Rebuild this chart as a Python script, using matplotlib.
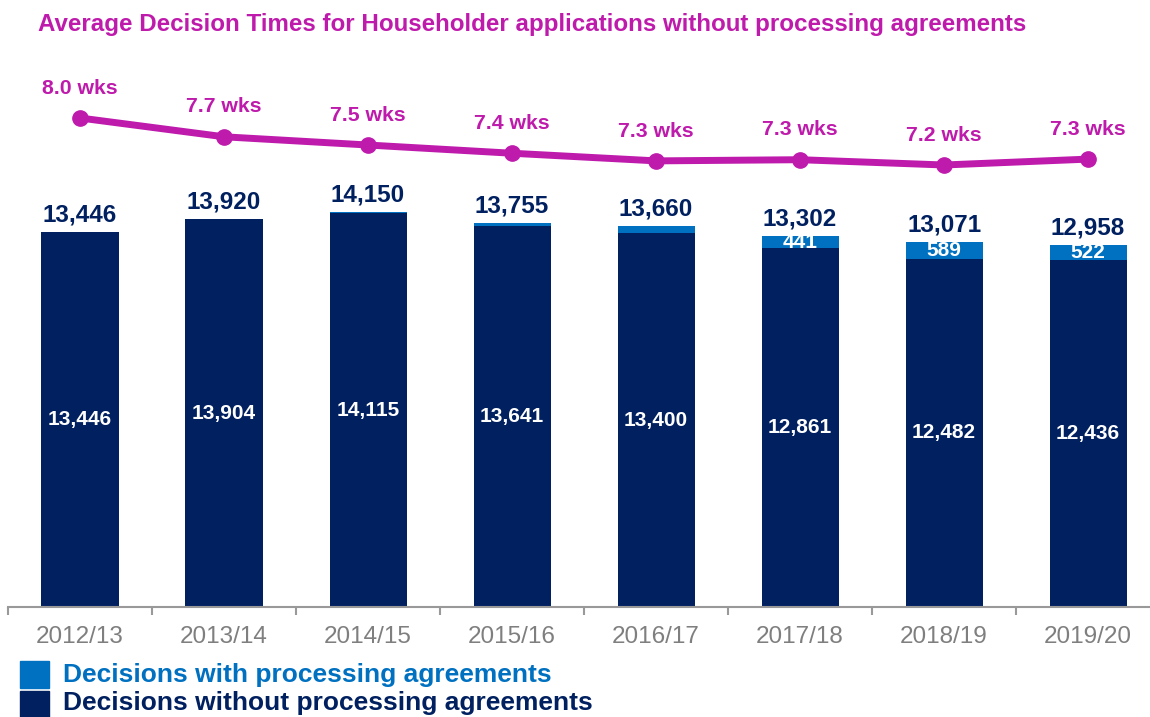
import matplotlib
matplotlib.use('Agg')
import matplotlib.pyplot as plt
from matplotlib.patches import Rectangle
import numpy as np

plt.rcParams['font.family'] = ['Liberation Sans', 'DejaVu Sans']

years = ['2012/13', '2013/14', '2014/15', '2015/16', '2016/17', '2017/18', '2018/19', '2019/20']
without_pa = [13446, 13904, 14115, 13641, 13400, 12861, 12482, 12436]
with_pa = [0, 16, 35, 114, 260, 441, 589, 522]
avg_weeks = [8.0, 7.68, 7.54, 7.40, 7.27, 7.29, 7.20, 7.30]
# only the bigger top segments get a label in the original
show_with_label = [False, False, False, False, False, True, True, True]
legend_labels = ['Decisions with processing agreements', 'Decisions without processing agreements']

NAVY = '#002060'
BLUE = '#0070C0'
MAGENTA = '#BE1AAC'
GREY = '#7F7F7F'
AXIS_GREY = '#999999'

W, H = 1150, 717
fig = plt.figure(figsize=(W / 100, H / 100), dpi=100)

# axes box in pixels: left 8, right 1150, bottom (baseline) 607, top 60
ax = fig.add_axes([8 / W, (H - 607) / H, (W - 8) / W, (607 - 60) / H])
x = np.arange(len(years))
bw = 0.535

totals = [a + b for a, b in zip(without_pa, with_pa)]
ax.bar(x, without_pa, width=bw, color=NAVY, zorder=2)
ax.bar(x, with_pa, width=bw, bottom=without_pa, color=BLUE, zorder=2)

ax.set_xlim(-0.5, 7.43)
ax.set_ylim(0, 19606)

for i in range(len(years)):
    ax.text(x[i], without_pa[i] / 2, f'{without_pa[i]:,}', ha='center', va='center',
            color='white', fontsize=15, fontweight='bold')
    if show_with_label[i]:
        ax.text(x[i], without_pa[i] + with_pa[i] / 2, f'{with_pa[i]:,}', ha='center',
                va='center', color='white', fontsize=15, fontweight='bold')
    ax.annotate(f'{totals[i]:,}', (x[i], totals[i]), xytext=(0, 4),
                textcoords='offset points', ha='center', va='bottom',
                color=NAVY, fontsize=17.5, fontweight='bold')

# category axis with ticks between groups
for s in ['left', 'right', 'top']:
    ax.spines[s].set_visible(False)
ax.spines['bottom'].set_color(AXIS_GREY)
ax.spines['bottom'].set_linewidth(1.5)
ax.set_yticks([])
ax.set_xticks(x)
ax.set_xticklabels(years, fontsize=17.5, color=GREY)
ax.tick_params(axis='x', which='major', length=0, pad=14)
ax.set_xticks(np.arange(-0.5, 7.5, 1), minor=True)
ax.tick_params(axis='x', which='minor', length=5.5, width=1.5, color=AXIS_GREY, direction='out')

# weeks line on its own scale
ax2 = ax.twinx()
ax2.set_ylim(-0.323, 8.987)
ax2.plot(x, avg_weeks, color=MAGENTA, linewidth=5, marker='o', markersize=11,
         solid_capstyle='round', zorder=3)
for i in range(len(years)):
    ax2.annotate(f'{avg_weeks[i]:.1f} wks', (x[i], avg_weeks[i]), xytext=(0, 21.5),
                 textcoords='offset points', ha='center', va='center',
                 color=MAGENTA, fontsize=15.3, fontweight='bold')
ax2.axis('off')

fig.text(38 / W, 1 - 24 / H,
         'Average Decision Times for Householder applications without processing agreements',
         ha='left', va='center', color=MAGENTA, fontsize=17.4, fontweight='bold')

# legend drawn by hand, pushed tight against the bottom edge like the original
leg_colors = [BLUE, NAVY]
leg_boxes = [(661, 688), (691, 720)]
leg_text_y = [675, 703]
for c, (top, bot), ty, lab in zip(leg_colors, leg_boxes, leg_text_y, legend_labels):
    fig.add_artist(Rectangle((20 / W, 1 - bot / H), 29 / W, (bot - top) / H,
                             transform=fig.transFigure, color=c))
    fig.text(63 / W, 1 - ty / H, lab, ha='left', va='center', color=c,
             fontsize=19, fontweight='bold')

fig.savefig('out.png', dpi=100)
